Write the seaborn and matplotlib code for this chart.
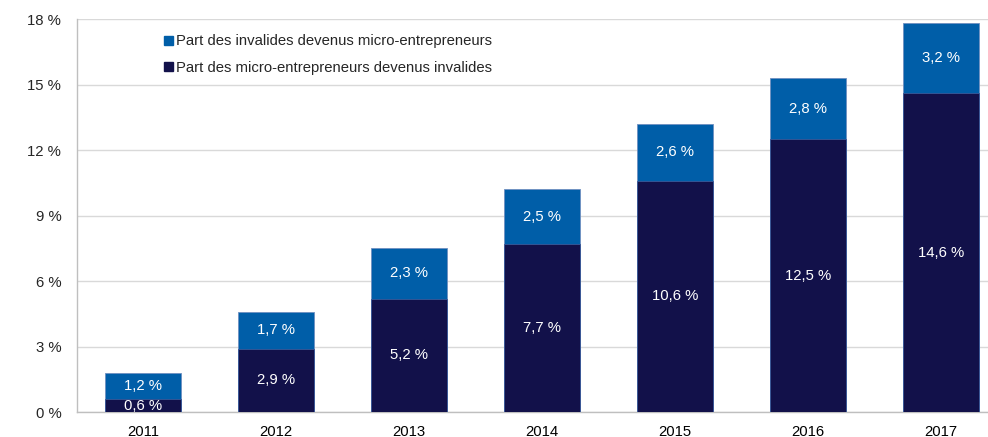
import matplotlib
matplotlib.use("Agg")
import matplotlib.pyplot as plt
import matplotlib.ticker as mticker
import numpy as np
import pandas as pd
import seaborn as sns

years = ["2011", "2012", "2013", "2014", "2015", "2016", "2017"]
micro_to_invalid = [0.6, 2.9, 5.2, 7.7, 10.6, 12.5, 14.6]
invalid_to_micro = [1.2, 1.7, 2.3, 2.5, 2.6, 2.8, 3.2]

label_top = "Part des invalides devenus micro-entrepreneurs"
label_bottom = "Part des micro-entrepreneurs devenus invalides"

navy = "#12114a"
blue = "#005ea8"
grey = "#bfbfbf"

df = pd.DataFrame({"year": years, "bottom": micro_to_invalid, "top": invalid_to_micro})
df["total"] = df["bottom"] + df["top"]

sns.set_style("white")
plt.rcParams["font.family"] = ["Liberation Sans", "DejaVu Sans"]

fig = plt.figure(figsize=(9.88, 4.37), dpi=100)
# the plot area runs a little past the right edge of the picture, as in the original
ax = fig.add_axes([0.0775, 0.057, 0.9425, 0.8995])

# stacked bars: draw total in blue, then the bottom part over it
sns.barplot(data=df, x="year", y="total", color=blue, width=0.57,
            saturation=1, edgecolor="#6f8fc0", linewidth=0.6, ax=ax, zorder=2)
sns.barplot(data=df, x="year", y="bottom", color=navy, width=0.57,
            saturation=1, edgecolor="#3a5a9a", linewidth=0.6, ax=ax, zorder=3)

# value labels
for i, row in df.iterrows():
    ax.text(i, row["bottom"] / 2, f"{row['bottom']:.1f} %".replace(".", ","),
            ha="center", va="center", color="white", fontsize=10.7, zorder=4)
    ax.text(i, row["bottom"] + row["top"] / 2, f"{row['top']:.1f} %".replace(".", ","),
            ha="center", va="center", color="white", fontsize=10.7, zorder=4)

ax.set_ylim(0, 18)
ax.set_xlim(-0.5, len(years) - 0.5)
ax.yaxis.set_major_locator(mticker.MultipleLocator(3))
ax.yaxis.set_major_formatter(mticker.FuncFormatter(lambda v, p: f"{v:.0f} %"))
ax.grid(axis="y", color="#d9d9d9", linewidth=1, zorder=0)
ax.set_axisbelow(True)

ax.set_xlabel("")
ax.set_ylabel("")
ax.xaxis.set_minor_locator(mticker.FixedLocator(np.arange(-0.5, len(years), 1)))
ax.tick_params(axis="x", which="major", length=0, labelsize=10.7, pad=9, colors="black")
ax.tick_params(axis="x", which="minor", length=5, color=grey, direction="out")
ax.tick_params(axis="y", length=5, color=grey, labelsize=10.7, pad=6)

for s in ["top", "right"]:
    ax.spines[s].set_visible(False)
for s in ["left", "bottom"]:
    ax.spines[s].set_color(grey)
    ax.spines[s].set_linewidth(1)

handles = [plt.Rectangle((0, 0), 1, 1, color=blue), plt.Rectangle((0, 0), 1, 1, color=navy)]
ax.legend(handles, [label_top, label_bottom], loc="upper left",
          bbox_to_anchor=(0.08, 0.995), frameon=False, fontsize=10.7,
          handlelength=0.55, handleheight=0.55, handletextpad=0.2, labelspacing=0.85)

fig.savefig("out.png", dpi=100)
